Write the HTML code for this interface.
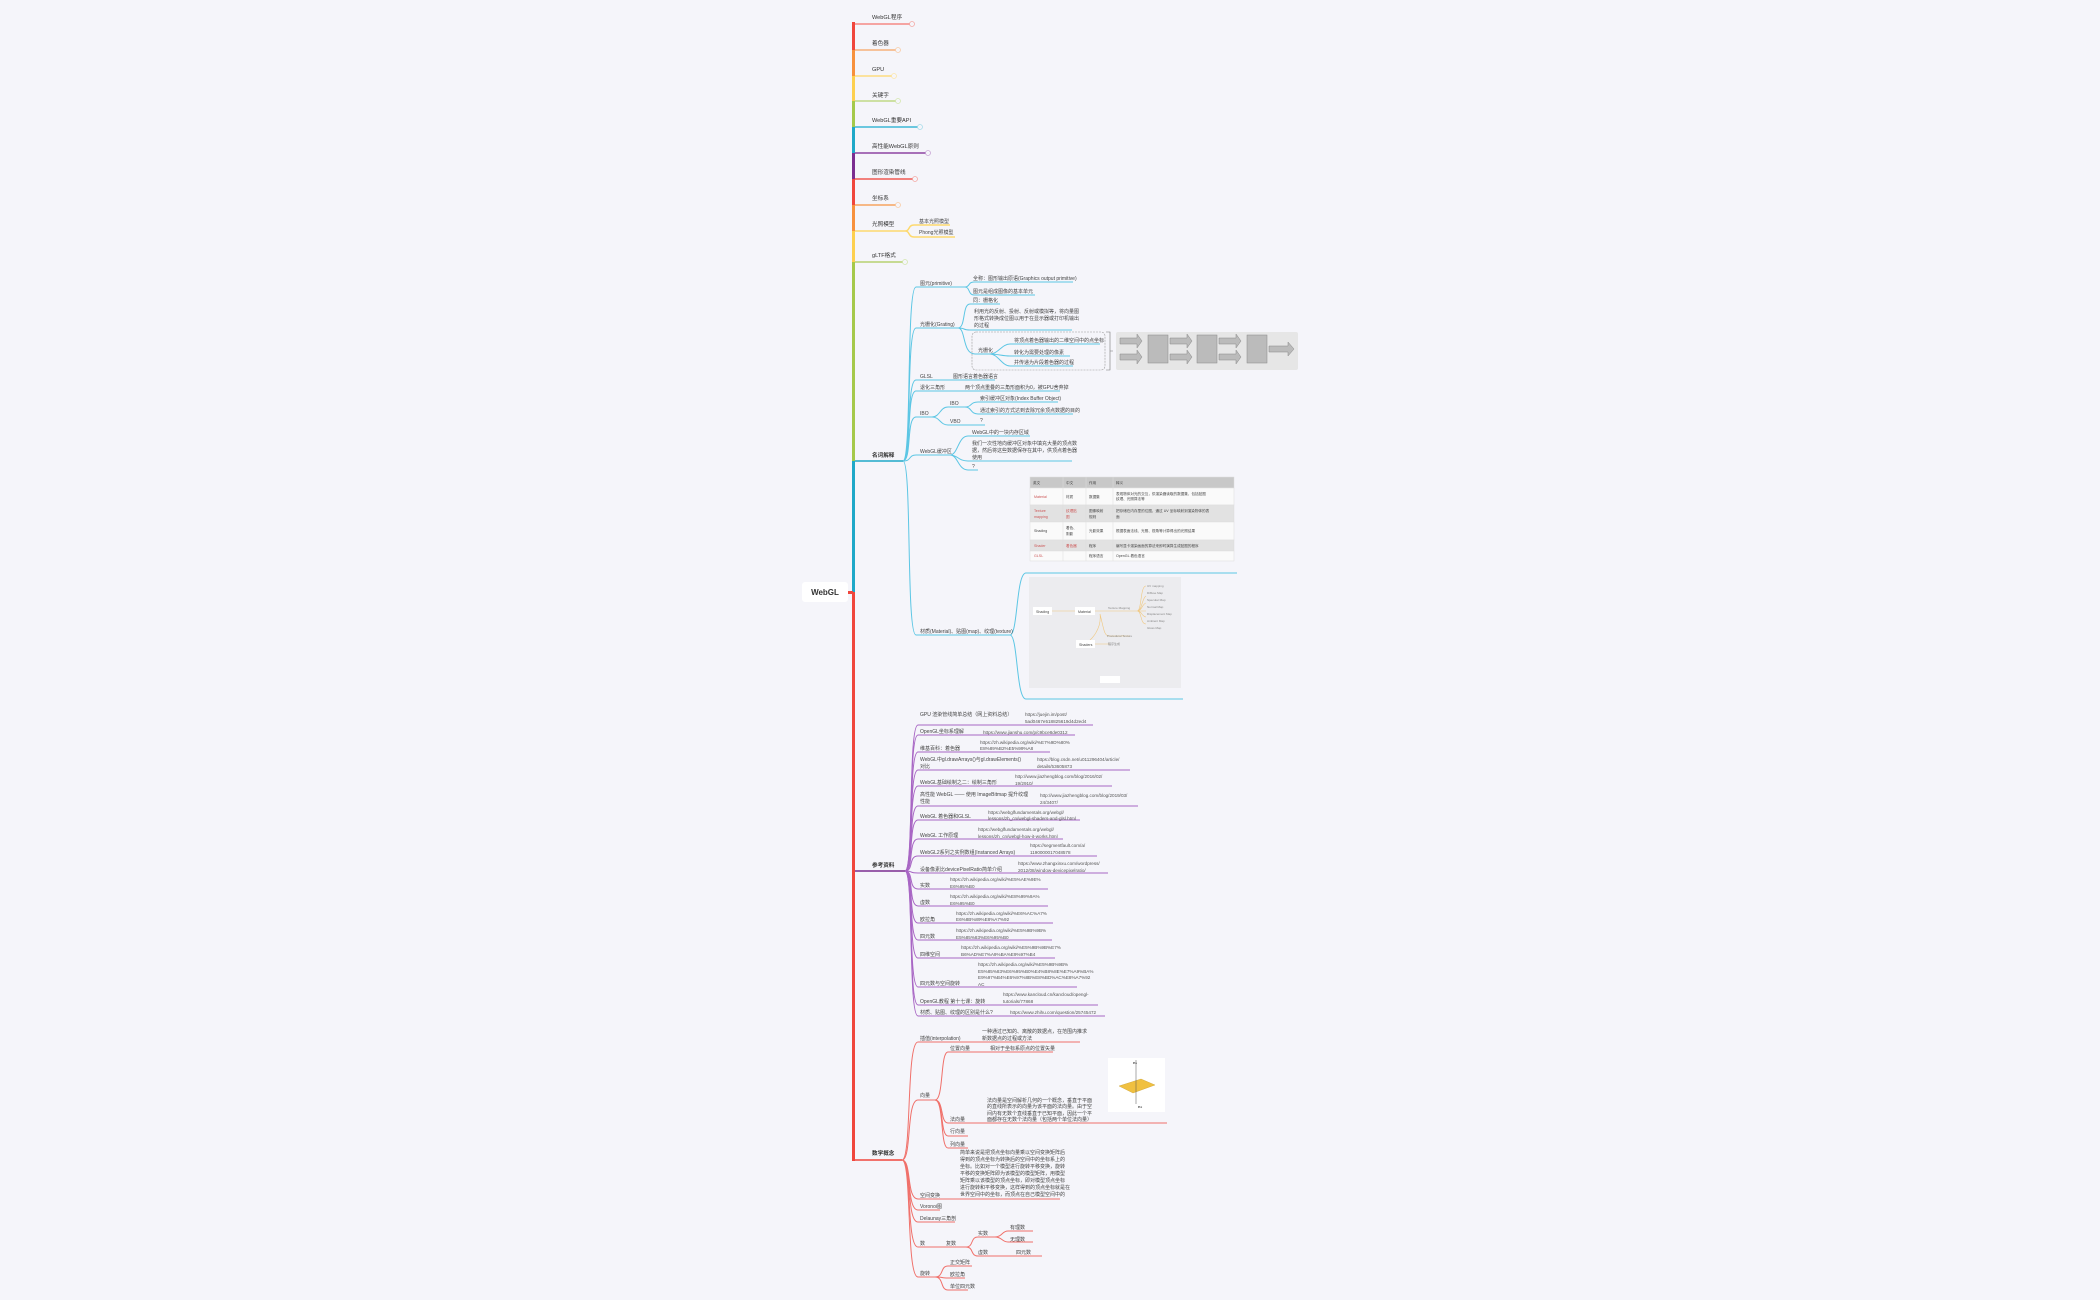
<!DOCTYPE html>
<html><head><meta charset="utf-8"><style>
html,body{margin:0;padding:0;background:#f5f5fa;}
svg{display:block}
text{font-family:"Liberation Sans","Noto Sans CJK SC",sans-serif;font-size:5px;fill:#444}
.t{font-size:5.6px;fill:#333}
.u{font-size:4.6px;fill:#555}
.tl path,.nm path{fill:none}
.nm path{stroke:#5cc6e4;stroke-width:1}
.rf path{fill:none;stroke:#a866c4;stroke-width:1}
.ma path{fill:none;stroke:#f0706a;stroke-width:1}
</style></head><body>
<svg width="2100" height="1300" viewBox="0 0 2100 1300" xmlns="http://www.w3.org/2000/svg">
<g>
<rect x="852" y="22" width="3" height="28" fill="#f0463c"/>
<rect x="852" y="50" width="3" height="26" fill="#f7913d"/>
<rect x="852" y="76" width="3" height="25" fill="#fdd04f"/>
<rect x="852" y="101" width="3" height="26" fill="#a5c94a"/>
<rect x="852" y="127" width="3" height="26" fill="#1fa8c8"/>
<rect x="852" y="153" width="3" height="26" fill="#7b2d90"/>
<rect x="852" y="179" width="3" height="26" fill="#f0463c"/>
<rect x="852" y="205" width="3" height="26" fill="#f7913d"/>
<rect x="852" y="231" width="3" height="31" fill="#fdd04f"/>
<rect x="852" y="262" width="3" height="199" fill="#a5c94a"/>
<rect x="852" y="461" width="3" height="131" fill="#1fa8c8"/>
<rect x="852" y="592" width="3" height="569" fill="#f0463c"/>
<rect x="848" y="591" width="5" height="3" fill="#f0463c"/>
</g>
<rect x="802" y="582" width="46" height="20" rx="3" fill="#fff"/>
<text x="825" y="595" text-anchor="middle" style="font-size:8px;fill:#333;font-weight:bold">WebGL</text>

<g fill="none" stroke-width="1.5">
<path d="M855,24 H910" stroke="#f58a84"/><circle cx="912" cy="24" r="2.5" stroke="#f4a8a4" stroke-width="0.8"/>
<path d="M855,50 H896" stroke="#f7b27a"/><circle cx="898" cy="50" r="2.5" stroke="#f8cca6" stroke-width="0.8"/>
<path d="M855,76 H892" stroke="#fddb80"/><circle cx="894" cy="76" r="2.5" stroke="#fde6a8" stroke-width="0.8"/>
<path d="M855,101 H896" stroke="#c0da86"/><circle cx="898" cy="101" r="2.5" stroke="#d4e6ae" stroke-width="0.8"/>
<path d="M855,127 H918" stroke="#3cb8d6"/><circle cx="920" cy="127" r="2.5" stroke="#a6dcea" stroke-width="0.8"/>
<path d="M855,153 H926" stroke="#8d44a2"/><circle cx="928" cy="153" r="2.5" stroke="#c9a6d6" stroke-width="0.8"/>
<path d="M855,179 H913" stroke="#f05a52"/><circle cx="915" cy="179" r="2.5" stroke="#f4a8a4" stroke-width="0.8"/>
<path d="M855,205 H896" stroke="#f7a460"/><circle cx="898" cy="205" r="2.5" stroke="#f8cca6" stroke-width="0.8"/>
<path d="M855,231 H905 C910,231 908,225 914,225 H950 M905,231 C910,231 908,237 914,237 H955" stroke="#fdd96e"/>
<path d="M855,262 H903" stroke="#b6d270"/><circle cx="905" cy="262" r="2.5" stroke="#d4e6ae" stroke-width="0.8"/>
<path d="M855,461 H903" stroke="#1fa8c8"/>
<path d="M855,871 H905" stroke="#7b2d90"/>
<path d="M855,1160 H902" stroke="#f0463c"/>
</g>
<text class="t" x="872" y="19">WebGL程序</text>
<text class="t" x="872" y="45">着色器</text>
<text class="t" x="872" y="71">GPU</text>
<text class="t" x="872" y="97">关键字</text>
<text class="t" x="872" y="122">WebGL重要API</text>
<text class="t" x="872" y="148">高性能WebGL原则</text>
<text class="t" x="872" y="174">图形渲染管线</text>
<text class="t" x="872" y="200">坐标系</text>
<text class="t" x="872" y="226">光照模型</text>
<text x="919" y="223">基本光照模型</text>
<text x="919" y="234">Phong光照模型</text>
<text class="t" x="872" y="257">gLTF格式</text>
<text class="t" x="872" y="457" style="font-weight:bold">名词解释</text>
<text class="t" x="872" y="867" style="font-weight:bold">参考资料</text>
<text class="t" x="872" y="1155" style="font-weight:bold">数学概念</text>

<g class="nm">
<path d="M903,461 C912,461 906,287 916,287 H965"/>
<path d="M903,461 C912,461 906,328 916,328 H958"/>
<path d="M903,461 C912,461 906,380 916,380 H950 H995"/>
<path d="M903,461 C912,461 906,391 916,391 H1060"/>
<path d="M903,461 C912,461 906,417 916,417 H932"/>
<path d="M903,461 C912,461 908,455 916,455 H950"/>
<path d="M903,461 C912,461 906,635 916,635 H1010"/>
<path d="M965,287 C970,287 968,282 974,282 H1073 M965,287 C970,287 968,295 974,295 H1035"/>
<path d="M958,328 C966,328 962,304 970,304 H1000 M958,328 C966,328 962,330 970,330 H1072 M958,328 C966,328 962,354 975,354 H990"/>
<path d="M990,354 C998,354 1002,344 1010,344 H1100 M990,354 C998,354 1002,356 1010,356 H1070 M990,354 C998,354 1002,366 1010,366 H1073"/>
<path d="M932,417 C940,417 940,407 948,407 H965 M932,417 C940,417 940,425 948,425 H965"/>
<path d="M965,407 C972,407 970,402 978,402 H1058 M965,407 C972,407 970,414 978,414 H1073 M965,425 H985"/>
<path d="M950,455 C958,455 958,436 968,436 H1030 M950,455 C958,455 958,461 968,461 H1072 M950,455 C958,455 958,470 968,470 H978"/>
<path d="M1010,635 C1018,635 1016,573 1026,573 H1237 M1010,635 C1018,635 1016,699 1026,699 H1183"/>
</g>
<rect x="972" y="332" width="133" height="38" rx="4" fill="none" stroke="#999" stroke-width="0.6" stroke-dasharray="2,1"/>
<path d="M1106,332 H1110 V370 H1106 M1110,351 H1113" fill="none" stroke="#777" stroke-width="0.6"/>
<text x="920" y="285">图元(primitive)</text>
<text x="973" y="280">全称：图形输出原语(Graphics output primitive)</text>
<text x="973" y="293">图元是组成图像的基本单元</text>
<text x="920" y="326">光栅化(Grating)</text>
<text x="973" y="302">同：栅格化</text>
<text x="974" y="313">利用光的反射、投射、反射或模拟等，将向量图</text>
<text x="974" y="320">形格式转换成位图以用于在显示器或打印机输出</text>
<text x="974" y="327">的过程</text>
<text x="978" y="352">光栅化</text>
<text x="1014" y="342">将顶点着色器输出的二维空间中的点坐标</text>
<text x="1014" y="354">转化为需要处理的像素</text>
<text x="1014" y="364">并传递为片段着色器的过程</text>
<text x="920" y="378">GLSL</text>
<text x="953" y="378">图形语言着色器语言</text>
<text x="920" y="389">退化三角形</text>
<text x="965" y="389">两个顶点重叠的三角形面积为0，被GPU舍弃掉</text>
<text x="920" y="415">IBO</text>
<text x="950" y="405">IBO</text>
<text x="950" y="423">VBO</text>
<text x="980" y="400">索引缓冲区对象(Index Buffer Object)</text>
<text x="980" y="412">通过索引的方式达到去除冗余顶点数据的目的</text>
<text x="980" y="422">?</text>
<text x="920" y="453">WebGL缓冲区</text>
<text x="972" y="434">WebGL中的一块内存区域</text>
<text x="972" y="445">我们一次性地向缓冲区对象中填充大量的顶点数</text>
<text x="972" y="452">据，然后将这些数据保存在其中，供顶点着色器</text>
<text x="972" y="459">使用</text>
<text x="972" y="468">?</text>
<text x="920" y="633">材质(Material)、贴图(map)、纹理(texture)</text>

<rect x="1116" y="332" width="182" height="38" rx="2" fill="#e6e6e6"/>
<g fill="#bbb" stroke="#888" stroke-width="0.5">
<path d="M1120,338 H1137 V334 L1142,341 L1137,348 V344 H1120Z"/>
<path d="M1120,354 H1137 V350 L1142,357 L1137,364 V360 H1120Z"/>
<rect x="1148" y="335" width="20" height="28"/>
<path d="M1170,338 H1187 V334 L1192,341 L1187,348 V344 H1170Z"/>
<path d="M1170,354 H1187 V350 L1192,357 L1187,364 V360 H1170Z"/>
<rect x="1197" y="335" width="20" height="28"/>
<path d="M1219,338 H1236 V334 L1241,341 L1236,348 V344 H1219Z"/>
<path d="M1219,354 H1236 V350 L1241,357 L1236,364 V360 H1219Z"/>
<rect x="1247" y="335" width="20" height="28"/>
<path d="M1269,346 H1288 V342 L1294,349 L1288,356 V352 H1269Z"/>
</g>

<g stroke="#ddd" stroke-width="0.5">
<rect x="1030" y="477" width="204" height="11" fill="#c8c8c8"/>
<rect x="1030" y="488" width="204" height="17" fill="#fafafa"/>
<rect x="1030" y="505" width="204" height="17" fill="#e2e2e2"/>
<rect x="1030" y="522" width="204" height="18" fill="#fafafa"/>
<rect x="1030" y="540" width="204" height="11" fill="#e2e2e2"/>
<rect x="1030" y="551" width="204" height="10" fill="#fafafa"/>
<path d="M1063,477 V561 M1086,477 V561 M1113,477 V561"/>
</g>
<g>
<text x="1033" y="484" style="font-size:3.6px">英文</text><text x="1066" y="484" style="font-size:3.6px">中文</text><text x="1089" y="484" style="font-size:3.6px">作用</text><text x="1116" y="484" style="font-size:3.6px">释义</text>
<text x="1034" y="498" style="font-size:3.6px;fill:#c55">Material</text><text x="1066" y="498" style="font-size:3.6px">材质</text><text x="1089" y="498" style="font-size:3.6px">数据集</text><text x="1116" y="495" style="font-size:3.6px">表现物体对光的交互，供渲染器读取的数据集，包括贴图</text><text x="1116" y="500" style="font-size:3.6px">纹理、光照算法等</text>
<text x="1034" y="512" style="font-size:3.6px;fill:#c55">Texture</text><text x="1034" y="518" style="font-size:3.6px;fill:#c55">mapping</text><text x="1066" y="512" style="font-size:3.6px;fill:#c55">纹理贴</text><text x="1066" y="518" style="font-size:3.6px;fill:#c55">图</text><text x="1089" y="512" style="font-size:3.6px">图像映射</text><text x="1089" y="518" style="font-size:3.6px">规则</text><text x="1116" y="512" style="font-size:3.6px">把存储在内存里的位图，通过 UV 坐标映射到渲染物体的表</text><text x="1116" y="518" style="font-size:3.6px">面</text>
<text x="1034" y="532" style="font-size:3.6px">Shading</text><text x="1066" y="529" style="font-size:3.6px">着色、</text><text x="1066" y="535" style="font-size:3.6px">阴影</text><text x="1089" y="532" style="font-size:3.6px">光影效果</text><text x="1116" y="532" style="font-size:3.6px">根据表面法线、光照、视角等计算得出的光照结果</text>
<text x="1034" y="547" style="font-size:3.6px;fill:#c55">Shader</text><text x="1066" y="547" style="font-size:3.6px;fill:#c55">着色器</text><text x="1089" y="547" style="font-size:3.6px">程序</text><text x="1116" y="547" style="font-size:3.6px">编写显卡渲染画面的算法来即时演算生成贴图的程序</text>
<text x="1034" y="557" style="font-size:3.6px;fill:#c55">GLSL</text><text x="1089" y="557" style="font-size:3.6px">程序语言</text><text x="1116" y="557" style="font-size:3.6px">OpenGL 着色语言</text>
</g>

<rect x="1029" y="577" width="152" height="111" fill="#ececef"/>
<g fill="none" stroke="#f0c880" stroke-width="0.6">
<path d="M1052,611 H1075 M1095,611 H1137 C1142,611 1140,586 1146,586 M1137,611 C1142,611 1140,624 1146,624 M1137,611 C1142,611 1142,598 1146,596 M1137,611 C1142,611 1142,604 1146,603 M1137,611 H1146 M1137,611 C1142,611 1142,617 1146,617"/>
<path d="M1100,614 C1104,630 1104,634 1108,636 H1130 M1100,614 C1102,630 1090,640 1090,640 M1095,644 H1110"/>
</g>
<rect x="1033" y="607" width="19" height="8" fill="#fff"/><text x="1036" y="613" style="font-size:3.6px">Shading</text>
<rect x="1075" y="607" width="20" height="8" fill="#fff"/><text x="1078" y="613" style="font-size:3.6px">Material</text>
<rect x="1076" y="640" width="19" height="8" fill="#fff"/><text x="1079" y="646" style="font-size:3.6px">Shaders</text>
<rect x="1100" y="676" width="20" height="7" fill="#fff"/>
<g>
<text x="1108" y="609" style="font-size:3px;fill:#888">Texture Mapping</text>
<text x="1147" y="587" style="font-size:3px;fill:#888">UV mapping</text>
<text x="1147" y="594" style="font-size:3px;fill:#888">Diffuse Map</text>
<text x="1147" y="601" style="font-size:3px;fill:#888">Specular Map</text>
<text x="1147" y="608" style="font-size:3px;fill:#888">Normal Map</text>
<text x="1147" y="615" style="font-size:3px;fill:#888">Displacement Map</text>
<text x="1147" y="622" style="font-size:3px;fill:#888">Ambient Map</text>
<text x="1147" y="629" style="font-size:3px;fill:#888">Gloss Map</text>
<text x="1107" y="637" style="font-size:3px;fill:#888">Procedural Texture</text>
<text x="1108" y="645" style="font-size:3px;fill:#888">程序生成</text>
</g>

<g class="rf">
<path d="M905,871 C914,871 908,725 918,725 H1093"/>
<path d="M905,871 C914,871 908,735 918,735 H1075"/>
<path d="M905,871 C914,871 908,752 918,752 H1050"/>
<path d="M905,871 C914,871 908,770 918,770 H1130"/>
<path d="M905,871 C914,871 908,786 918,786 H1112"/>
<path d="M905,871 C914,871 908,806 918,806 H1138"/>
<path d="M905,871 C914,871 908,820 918,820 H1080"/>
<path d="M905,871 C914,871 908,839 918,839 H1063"/>
<path d="M905,871 C914,871 908,856 918,856 H1097"/>
<path d="M905,871 C914,871 908,873 918,873 H1108"/>
<path d="M905,871 C914,871 908,889 918,889 H1048"/>
<path d="M905,871 C914,871 908,906 918,906 H1048"/>
<path d="M905,871 C914,871 908,923 918,923 H1053"/>
<path d="M905,871 C914,871 908,940 918,940 H1052"/>
<path d="M905,871 C914,871 908,958 918,958 H1055"/>
<path d="M905,871 C914,871 908,987 918,987 H1077"/>
<path d="M905,871 C914,871 908,1005 918,1005 H1098"/>
<path d="M905,871 C914,871 908,1016 918,1016 H1105"/>
</g>
<g>
<text x="920" y="716">GPU 渲染管线简单总结（网上资料总结）</text><text class="u" x="1025" y="716">https://juejin.im/post/</text><text class="u" x="1025" y="723">5ad0467e518825619d4d2ed4</text>
<text x="920" y="733">OpenGL坐标系理解</text><text class="u" x="983" y="734">https://www.jianshu.com/p/c9bce8de0312</text>
<text x="920" y="750">维基百科：着色器</text><text class="u" x="980" y="744">https://zh.wikipedia.org/wiki/%E7%9D%80%</text><text class="u" x="980" y="750">E8%89%B2%E5%99%A8</text>
<text x="920" y="761">WebGL中gl.drawArrays()与gl.drawElements()</text><text x="920" y="768">对比</text><text class="u" x="1037" y="761">https://blog.csdn.net/u011296404/article/</text><text class="u" x="1037" y="768">details/53605873</text>
<text x="920" y="784">WebGL基础绘制之二：绘制三角形</text><text class="u" x="1015" y="778">http://www.jiazhengblog.com/blog/2016/02/</text><text class="u" x="1015" y="785">19/2910/</text>
<text x="920" y="796">高性能 WebGL —— 使用 ImageBitmap 提升纹理</text><text x="920" y="803">性能</text><text class="u" x="1040" y="797">http://www.jiazhengblog.com/blog/2019/03/</text><text class="u" x="1040" y="804">24/3407/</text>
<text x="920" y="818">WebGL 着色器和GLSL</text><text class="u" x="988" y="814">https://webglfundamentals.org/webgl/</text><text class="u" x="988" y="820">lessons/zh_cn/webgl-shaders-and-glsl.html</text>
<text x="920" y="837">WebGL 工作原理</text><text class="u" x="978" y="831">https://webglfundamentals.org/webgl/</text><text class="u" x="978" y="838">lessons/zh_cn/webgl-how-it-works.html</text>
<text x="920" y="854">WebGL2系列之实例数组(Instanced Arrays)</text><text class="u" x="1030" y="847">https://segmentfault.com/a/</text><text class="u" x="1030" y="854">1190000017048578</text>
<text x="920" y="871">设备像素比devicePixelRatio简单介绍</text><text class="u" x="1018" y="865">https://www.zhangxinxu.com/wordpress/</text><text class="u" x="1018" y="872">2012/08/window-devicepixelratio/</text>
<text x="920" y="887">实数</text><text class="u" x="950" y="881">https://zh.wikipedia.org/wiki/%E5%AE%9E%</text><text class="u" x="950" y="888">E6%95%B0</text>
<text x="920" y="904">虚数</text><text class="u" x="950" y="898">https://zh.wikipedia.org/wiki/%E8%99%9A%</text><text class="u" x="950" y="905">E6%95%B0</text>
<text x="920" y="921">欧拉角</text><text class="u" x="956" y="915">https://zh.wikipedia.org/wiki/%E6%AC%A7%</text><text class="u" x="956" y="921">E6%8B%89%E8%A7%92</text>
<text x="920" y="938">四元数</text><text class="u" x="956" y="932">https://zh.wikipedia.org/wiki/%E5%9B%9B%</text><text class="u" x="956" y="939">E5%85%83%E6%95%B0</text>
<text x="920" y="956">四维空间</text><text class="u" x="961" y="949">https://zh.wikipedia.org/wiki/%E5%9B%9B%E7%</text><text class="u" x="961" y="956">B6%AD%E7%A9%BA%E9%97%B4</text>
<text x="920" y="985">四元数与空间旋转</text><text class="u" x="978" y="966">https://zh.wikipedia.org/wiki/%E5%9B%9B%</text><text class="u" x="978" y="973">E5%85%83%E6%95%B0%E4%B8%8E%E7%A9%BA%</text><text class="u" x="978" y="979">E9%97%B4%E6%97%8B%E8%BD%AC%E8%A7%92</text><text class="u" x="978" y="986">AC</text>
<text x="920" y="1003">OpenGL教程 第十七课：旋转</text><text class="u" x="1003" y="996">https://www.kancloud.cn/kancloud/opengl-</text><text class="u" x="1003" y="1003">tutorials/77868</text>
<text x="920" y="1014">材质、贴图、纹理的区别是什么?</text><text class="u" x="1010" y="1014">https://www.zhihu.com/question/25745472</text>
</g>

<g class="ma">
<path d="M902,1160 C912,1160 906,1042 918,1042 H960 H1080"/>
<path d="M902,1160 C912,1160 906,1100 918,1100 H935"/>
<path d="M935,1100 C944,1100 940,1052 948,1052 H973 H1053"/>
<path d="M935,1100 C944,1100 940,1123 948,1123 H1167"/>
<path d="M935,1100 C944,1100 940,1136 948,1136 H968"/>
<path d="M935,1100 C944,1100 940,1148 948,1148 H968"/>
<path d="M902,1160 C912,1160 906,1199 918,1199 H1060"/>
<path d="M902,1160 C912,1160 906,1210 918,1210 H940"/>
<path d="M902,1160 C912,1160 906,1222 918,1222 H955"/>
<path d="M902,1160 C912,1160 906,1247 918,1247 H966"/>
<path d="M966,1247 C974,1247 970,1237 978,1237 H995 C1002,1237 1002,1231 1008,1231 H1033 M995,1237 C1002,1237 1002,1242 1008,1242 H1033 M966,1247 C974,1247 970,1256 978,1256 H1000 H1042"/>
<path d="M902,1160 C912,1160 906,1277 918,1277 H935"/>
<path d="M935,1277 C944,1277 940,1266 948,1266 H972 M935,1277 C944,1277 940,1278 948,1278 H965 M935,1277 C944,1277 940,1290 948,1290 H968"/>
</g>
<rect x="1108" y="1058" width="57" height="54" fill="#fff"/>
<path d="M1119,1086 L1141,1079 L1155,1085 L1133,1093Z" fill="#f0c040" stroke="#c9a030" stroke-width="0.4"/>
<path d="M1136,1060 V1104" stroke="#555" stroke-width="0.5"/>
<text x="1133" y="1064" style="font-size:4px;font-weight:bold">n₁</text><text x="1138" y="1108" style="font-size:4px;font-weight:bold">n₂</text>
<g>
<text x="920" y="1040">插值(interpolation)</text><text x="982" y="1033">一种通过已知的、离散的数据点，在范围内推求</text><text x="982" y="1040">新数据点的过程或方法</text>
<text x="920" y="1097">向量</text>
<text x="950" y="1050">位置向量</text><text x="990" y="1050">相对于坐标系原点的位置矢量</text>
<text x="950" y="1121">法向量</text>
<text x="987" y="1102">法向量是空间解析几何的一个概念，垂直于平面</text><text x="987" y="1108">的直线所表示的向量为该平面的法向量。由于空</text><text x="987" y="1115">间内有无数个直线垂直于已知平面，因此一个平</text><text x="987" y="1121">面都存在无数个法向量（包括两个单位法向量）</text>
<text x="950" y="1133">行向量</text><text x="950" y="1146">列向量</text>
<text x="960" y="1154">简单来说是把顶点坐标向量乘以空间变换矩阵后</text><text x="960" y="1161">得到的顶点坐标为转换后的空间中的坐标系上的</text><text x="960" y="1168">坐标。比如对一个模型进行旋转平移变换，旋转</text><text x="960" y="1175">平移的变换矩阵即为该模型的模型矩阵，用模型</text><text x="960" y="1182">矩阵乘以该模型的顶点坐标，即对模型顶点坐标</text><text x="960" y="1189">进行旋转和平移变换，这样得到的顶点坐标就是在</text><text x="960" y="1196">世界空间中的坐标，而顶点在自己模型空间中的</text>
<text x="920" y="1197">空间变换</text>
<text x="920" y="1208">Voronoi图</text>
<text x="920" y="1220">Delaunay三角剖</text>
<text x="920" y="1245">数</text><text x="946" y="1245">复数</text><text x="978" y="1235">实数</text><text x="1010" y="1229">有理数</text><text x="1010" y="1241">无理数</text><text x="978" y="1254">虚数</text><text x="1016" y="1254">四元数</text>
<text x="920" y="1275">旋转</text><text x="950" y="1264">正交矩阵</text><text x="950" y="1276">欧拉角</text><text x="950" y="1288">单位四元数</text>
</g>
</svg>
</body></html>
